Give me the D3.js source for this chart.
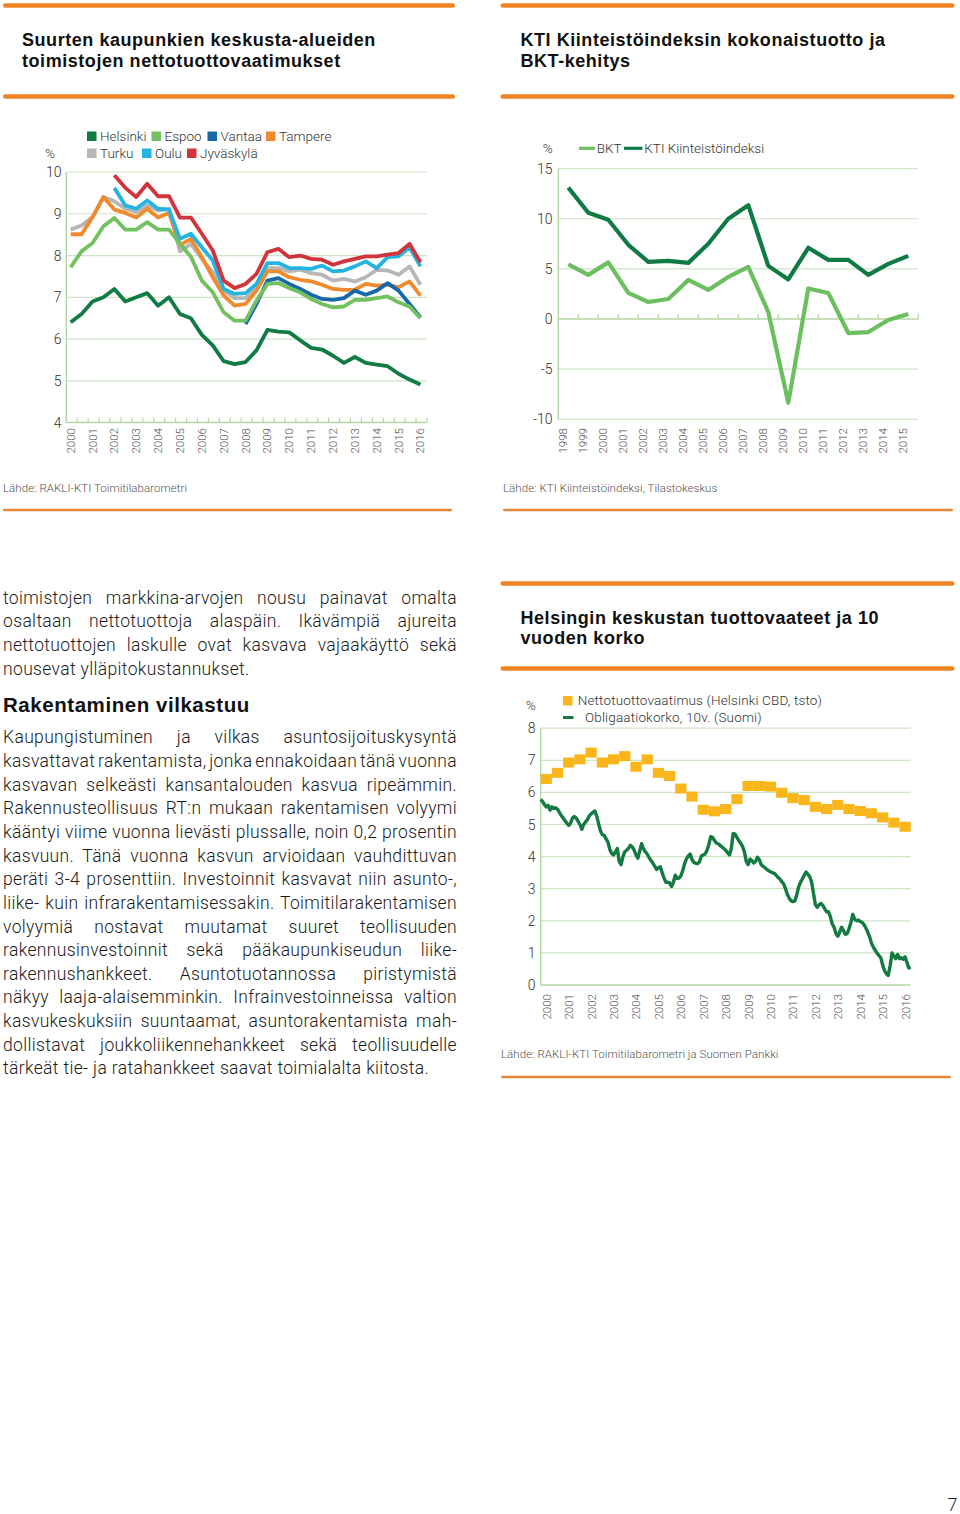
<!DOCTYPE html>
<html><head><meta charset="utf-8">
<script src="https://cdn.jsdelivr.net/npm/d3@7"></script>
<style>
body{margin:0;background:#fff;width:960px;height:1514px;overflow:hidden}
svg{position:absolute;left:0;top:0}
</style></head><body>
<script>
// ---------- DATA ----------
// Chart 1: half-year observations 2000..2016
const c1Years = d3.range(2000, 2017);
const c1Periods = d3.range(33).map(i => 2000 + i * 0.5);
const c1Ticks = [4, 5, 6, 7, 8, 9, 10];
const c1Names = ["Helsinki", "Espoo", "Vantaa", "Tampere", "Turku", "Oulu", "Jyväskylä"];
const helsinki = [6.4,6.6,6.9,7.0,7.2,6.9,7.0,7.1,6.8,7.0,6.6,6.5,6.1,5.85,5.47,5.4,5.45,5.73,6.22,6.18,6.16,5.97,5.79,5.75,5.6,5.43,5.57,5.43,5.39,5.35,5.17,5.03,4.91];
const espoo = [7.72,8.1,8.3,8.7,8.9,8.62,8.62,8.8,8.62,8.62,8.28,7.97,7.4,7.12,6.64,6.44,6.44,6.92,7.32,7.34,7.22,7.12,6.96,6.84,6.76,6.78,6.94,6.94,6.98,7.02,6.88,6.78,6.5];
const vantaa = [null,null,null,null,null,null,null,null,null,null,null,null,null,null,null,null,6.36,6.84,7.4,7.46,7.32,7.2,7.06,6.96,6.94,6.98,7.16,7.06,7.16,7.34,7.16,6.84,6.52];
const tampere = [8.51,8.51,8.92,9.4,9.1,9.02,8.91,9.12,8.91,9.02,8.25,8.4,7.96,7.48,7.04,6.8,6.84,7.16,7.62,7.62,7.48,7.42,7.38,7.3,7.2,7.18,7.18,7.32,7.28,7.3,7.24,7.38,7.04];
const turku = [8.62,8.72,8.92,9.4,9.3,9.12,9.04,9.2,9.08,9.12,8.1,8.28,7.92,7.6,7.16,6.98,6.98,7.24,7.7,7.7,7.62,7.66,7.58,7.54,7.4,7.44,7.38,7.48,7.66,7.64,7.54,7.74,7.3];
const oulu = [null,null,null,null,9.62,9.2,9.12,9.32,9.12,9.1,8.4,8.52,8.2,7.88,7.2,7.08,7.1,7.32,7.82,7.82,7.7,7.7,7.68,7.76,7.62,7.64,7.74,7.86,7.7,7.96,7.98,8.2,7.74];
const jyvaskyla = [null,null,null,null,9.92,9.62,9.4,9.72,9.42,9.42,8.91,8.91,8.52,8.12,7.4,7.22,7.32,7.56,8.08,8.16,7.96,8.0,7.92,7.9,7.78,7.86,7.92,7.98,7.98,8.02,8.06,8.28,7.84];

// Chart 2: annual
const c2Years = d3.range(1998, 2016);
const c2Ticks = [-10, -5, 0, 5, 10, 15];
const bkt = [5.45,4.4,5.65,2.6,1.7,2.0,3.9,2.9,4.2,5.2,0.7,-8.35,3.05,2.6,-1.4,-1.3,-0.1,0.5];
const kti = [13.1,10.6,9.9,7.4,5.7,5.8,5.6,7.5,10.0,11.35,5.3,3.95,7.1,5.9,5.9,4.4,5.5,6.3];

// Chart 3
const c3Years = d3.range(2000, 2017);
const c3Ticks = [0, 1, 2, 3, 4, 5, 6, 7, 8];
const nettotuotto = [6.42,6.61,6.93,7.03,7.24,6.93,7.03,7.13,6.8,7.03,6.61,6.51,6.12,5.87,5.46,5.41,5.48,5.79,6.2,6.2,6.18,5.99,5.82,5.76,5.55,5.48,5.61,5.48,5.42,5.35,5.22,5.06,4.93];
const obligaatio = [
 5.78,5.72,5.62,5.55,5.6,5.45,5.55,5.5,5.52,5.48,5.38,5.28,
 5.2,5.12,5.04,4.97,5.05,5.2,5.25,5.2,5.1,5.0,4.85,5.0,
 5.08,5.15,5.27,5.33,5.38,5.42,5.26,5.02,4.8,4.68,4.66,4.55,
 4.45,4.22,4.1,4.05,4.15,4.25,3.85,3.75,4.0,4.15,4.2,4.26,
 4.35,4.3,4.2,4.05,3.95,4.18,4.4,4.25,4.15,4.08,3.97,3.88,
 3.8,3.7,3.6,3.65,3.68,3.5,3.33,3.2,3.2,3.18,3.07,3.2,
 3.42,3.32,3.33,3.4,3.56,3.78,3.93,4.02,4.08,3.9,3.82,3.79,
 3.78,3.84,4.02,4.05,4.08,4.2,4.38,4.62,4.6,4.5,4.42,4.4,
 4.35,4.3,4.25,4.2,4.12,4.05,4.25,4.72,4.7,4.6,4.5,4.42,
 4.32,4.15,3.85,3.75,3.92,3.88,3.8,3.85,3.98,3.9,3.75,3.7,
 3.65,3.6,3.56,3.53,3.5,3.48,3.42,3.35,3.3,3.22,3.15,3.0,
 2.82,2.7,2.62,2.6,2.62,2.8,3.05,3.2,3.3,3.42,3.52,3.45,
 3.37,3.2,2.85,2.5,2.42,2.5,2.54,2.48,2.37,2.28,2.28,2.13,
 1.9,1.8,1.6,1.52,1.65,1.8,1.7,1.58,1.6,1.75,1.95,2.2,
 2.05,2.0,2.02,1.98,1.95,1.88,1.78,1.65,1.5,1.3,1.18,1.08,
 1.0,0.92,0.85,0.62,0.45,0.35,0.3,0.6,1.0,0.9,0.82,0.95,
 0.82,0.85,0.8,0.88,0.7,0.53,0.55];

const bodyP1 = [
 "toimistojen markkina-arvojen nousu painavat omalta",
 "osaltaan nettotuottoja alaspäin. Ikävämpiä ajureita",
 "nettotuottojen laskulle ovat kasvava vajaakäyttö sekä",
 "nousevat ylläpitokustannukset."];
const bodyP2 = [
 "Kaupungistuminen ja vilkas asuntosijoituskysyntä",
 "kasvattavat rakentamista, jonka ennakoidaan tänä vuonna",
 "kasvavan selkeästi kansantalouden kasvua ripeämmin.",
 "Rakennusteollisuus RT:n mukaan rakentamisen volyymi",
 "kääntyi viime vuonna lievästi plussalle, noin 0,2 prosentin",
 "kasvuun. Tänä vuonna kasvun arvioidaan vauhdittuvan",
 "peräti 3-4 prosenttiin. Investoinnit kasvavat niin asunto-,",
 "liike- kuin infrarakentamisessakin. Toimitilarakentamisen",
 "volyymiä nostavat muutamat suuret teollisuuden",
 "rakennusinvestoinnit sekä pääkaupunkiseudun liike-",
 "rakennushankkeet. Asuntotuotannossa piristymistä",
 "näkyy laaja-alaisemminkin. Infrainvestoinneissa valtion",
 "kasvukeskuksiin suuntaamat, asuntorakentamista mah-",
 "dollistavat joukkoliikennehankkeet sekä teollisuudelle",
 "tärkeät tie- ja ratahankkeet saavat toimialalta kiitosta."];

// ---------- STYLE ----------
const FONT = "Roboto, 'Liberation Sans', sans-serif";
const BOLD = "'Liberation Sans', Arial, sans-serif";
const ORANGE = "#f08424";
const GRID = "#cfe3c6";
const AXIS = "#b6d6a8";
const TICKC = "#333";
const c1Colors = ["#107b44", "#72c160", "#1768ab", "#f08a2c", "#b7b7b7", "#25b4e2", "#d2343b"];

const svg = d3.select("body").append("svg").attr("width", 960).attr("height", 1514)
  .style("font-family", FONT).style("font-weight", 300);

function bar(x0, x1, y, h, col) {
  svg.append("rect").attr("x", x0).attr("y", y - h / 2).attr("width", x1 - x0).attr("height", h)
    .attr("rx", h / 2).attr("fill", col || ORANGE);
}
function title(lines, x, y0) {
  const t = svg.append("text").attr("x", x).attr("y", y0).style("font-family", BOLD)
    .style("font-weight", 700).style("font-size", "18px").style("letter-spacing", "0.55px").attr("fill", "#111");
  lines.forEach((l, i) => t.append("tspan").attr("x", x).attr("y", y0 + i * 20.7).text(l));
}
function source(txt, x, y) {
  svg.append("text").attr("x", x).attr("y", y).style("font-size", "11.5px").attr("fill", "#555")
    .style("letter-spacing", "0.05px").text(txt);
}
function yearLabels(years, xf, ytop) {
  svg.append("g").selectAll("text").data(years).join("text")
    .attr("transform", d => `translate(${xf(d)},${ytop}) rotate(-90)`)
    .attr("text-anchor", "end").attr("dy", "0.35em")
    .style("font-size", "11.5px").attr("fill", "#555").text(d => d);
}

// ---------- CHART 1 ----------
bar(3, 455, 5.5, 4.6);
title(["Suurten kaupunkien keskusta-alueiden", "toimistojen nettotuottovaatimukset"], 22, 46);
bar(3, 455, 96.5, 4.6);

const x1 = d3.scaleLinear().domain([1999.8, 2016.3]).range([66.3, 427]);
const y1 = d3.scaleLinear().domain([4, 10]).range([422.6, 172]);
const g1 = svg.append("g");
g1.selectAll(".gr").data(c1Ticks.slice(1)).join("line")
  .attr("x1", x1(1999.8)).attr("x2", x1(2016.3)).attr("y1", d => y1(d)).attr("y2", d => y1(d))
  .attr("stroke", GRID).attr("stroke-width", 1.2);
g1.append("line").attr("x1", x1(1999.8)).attr("x2", x1(2016.3)).attr("y1", y1(4)).attr("y2", y1(4))
  .attr("stroke", AXIS).attr("stroke-width", 1.5);
g1.append("line").attr("x1", x1(1999.8)).attr("x2", x1(1999.8)).attr("y1", y1(10)).attr("y2", y1(4))
  .attr("stroke", AXIS).attr("stroke-width", 1.5);
g1.selectAll(".tk").data(d3.range(34).map(i => 1999.8 + i * 0.5)).join("line")
  .attr("x1", d => x1(d)).attr("x2", d => x1(d)).attr("y1", y1(4) - 5).attr("y2", y1(4))
  .attr("stroke", AXIS).attr("stroke-width", 1.2);
g1.selectAll(".yl").data(c1Ticks).join("text").attr("x", 61.5).attr("y", d => y1(d)).attr("dy", "0.36em")
  .attr("text-anchor", "end").style("font-size", "14px").attr("fill", TICKC).text(d => d);
svg.append("text").attr("x", 50).attr("y", 158).attr("text-anchor", "middle").style("font-size", "13.5px")
  .attr("fill", TICKC).text("%");
yearLabels(c1Years, d => x1(d), 428);

const c1Series = [helsinki, espoo, vantaa, tampere, turku, oulu, jyvaskyla];
const line1 = d3.line().defined(d => d[1] != null).x(d => x1(d[0])).y(d => y1(d[1]));
const drawOrder = [4, 3, 5, 6, 2, 1, 0];
drawOrder.forEach(k => {
  g1.append("path").attr("d", line1(c1Periods.map((p, i) => [p, c1Series[k][i]])))
    .attr("fill", "none").attr("stroke", c1Colors[k]).attr("stroke-width", 3.8)
    .attr("stroke-linejoin", "round").attr("stroke-linecap", "butt");
});
// legend chart 1
const leg1 = [[0, 100, 0], [1, 164.5, 0], [2, 220.5, 0], [3, 279, 0],
              [4, 100, 1], [5, 155, 1], [6, 200, 1]];
leg1.forEach(([k, tx, row]) => {
  const by = 141 + row * 17;
  svg.append("rect").attr("x", tx - 13).attr("y", by - 9.5).attr("width", 9.5).attr("height", 9.5).attr("fill", c1Colors[k]);
  svg.append("text").attr("x", tx).attr("y", by).style("font-size", "13.5px").attr("fill", TICKC).text(c1Names[k]);
});
source("Lähde: RAKLI-KTI Toimitilabarometri", 3, 492);
bar(3, 452, 510, 2.6, "#e8873a");

// ---------- CHART 2 ----------
bar(500.5, 954.5, 5.5, 4.6);
title(["KTI Kiinteistöindeksin kokonaistuotto ja", "BKT-kehitys"], 520.5, 46);
bar(500.5, 954.5, 96.5, 4.6);

const x2 = d3.scaleLinear().domain([1998, 2016]).range([558.3, 918.3]);
const y2 = d3.scaleLinear().domain([-10, 15]).range([419.3, 168.6]);
const g2 = svg.append("g");
g2.selectAll(".gr").data(c2Ticks.filter(d => d !== 0)).join("line")
  .attr("x1", x2(1998)).attr("x2", x2(2016)).attr("y1", d => y2(d)).attr("y2", d => y2(d))
  .attr("stroke", GRID).attr("stroke-width", 1.2);
g2.append("line").attr("x1", x2(1998)).attr("x2", x2(2016)).attr("y1", y2(0)).attr("y2", y2(0))
  .attr("stroke", AXIS).attr("stroke-width", 1.5);
g2.append("line").attr("x1", x2(1998)).attr("x2", x2(1998)).attr("y1", y2(15)).attr("y2", y2(-10))
  .attr("stroke", AXIS).attr("stroke-width", 1.5);
g2.selectAll(".tk").data(d3.range(1999, 2017)).join("line")
  .attr("x1", d => x2(d)).attr("x2", d => x2(d)).attr("y1", y2(0) - 5.5).attr("y2", y2(0))
  .attr("stroke", AXIS).attr("stroke-width", 1.2);
g2.selectAll(".yl").data(c2Ticks).join("text").attr("x", 552.5).attr("y", d => y2(d)).attr("dy", "0.36em")
  .attr("text-anchor", "end").style("font-size", "14px").attr("fill", TICKC).text(d => d);
svg.append("text").attr("x", 547.7).attr("y", 153).attr("text-anchor", "middle").style("font-size", "13.5px")
  .attr("fill", TICKC).text("%");
yearLabels(c2Years, d => x2(d + 0.22), 428);
const line2 = d3.line().x(d => x2(d[0] + 0.5)).y(d => y2(d[1]));
g2.append("path").attr("d", line2(c2Years.map((yr, i) => [yr, bkt[i]])))
  .attr("fill", "none").attr("stroke", "#6cbf5e").attr("stroke-width", 4.2).attr("stroke-linejoin", "round");
g2.append("path").attr("d", line2(c2Years.map((yr, i) => [yr, kti[i]])))
  .attr("fill", "none").attr("stroke", "#107a45").attr("stroke-width", 4.2).attr("stroke-linejoin", "round");
svg.append("line").attr("x1", 579).attr("x2", 595).attr("y1", 148.3).attr("y2", 148.3).attr("stroke", "#6cbf5e").attr("stroke-width", 3.2);
svg.append("text").attr("x", 596.7).attr("y", 153).style("font-size", "13.5px").attr("fill", TICKC).text("BKT");
svg.append("line").attr("x1", 624).attr("x2", 642.5).attr("y1", 148.3).attr("y2", 148.3).attr("stroke", "#107a45").attr("stroke-width", 3.2);
svg.append("text").attr("x", 644.3).attr("y", 153).style("font-size", "13.5px").attr("fill", TICKC).text("KTI Kiinteistöindeksi");
source("Lähde: KTI Kiinteistöindeksi, Tilastokeskus", 503, 492);
bar(503, 953, 510, 2.6, "#e8873a");

// ---------- BODY TEXT ----------
function justified(lines, x, y0, step, width, size) {
  lines.forEach((l, i) => {
    const t = svg.append("text").attr("x", x).attr("y", y0 + i * step)
      .style("font-size", size + "px").style("letter-spacing", "0.35px").attr("fill", "#1a1a1a").text(l);
    if (i < lines.length - 1) {
      const w = t.node().getComputedTextLength();
      const n = (l.match(/ /g) || []).length;
      if (n > 0) t.style("word-spacing", ((width - w) / n) + "px");
    }
  });
}
justified(bodyP1, 3, 603.7, 23.65, 454, 17.5);
svg.append("text").attr("x", 3).attr("y", 711.7).style("font-family", BOLD).style("font-weight", 700)
  .style("font-size", "20.5px").style("letter-spacing", "0.55px").attr("fill", "#111").text("Rakentaminen vilkastuu");
justified(bodyP2, 3, 743.3, 23.65, 454, 17.5);

// ---------- CHART 3 ----------
bar(500.5, 954.5, 583.5, 4.6);
title(["Helsingin keskustan tuottovaateet ja 10", "vuoden korko"], 520.5, 623.5);
bar(500.5, 954.5, 668.5, 4.6);

const x3 = d3.scaleLinear().domain([2000, 2016.5]).range([540.7, 910.7]);
const y3 = d3.scaleLinear().domain([0, 8]).range([985, 728.2]);
const g3 = svg.append("g");
g3.selectAll(".gr").data(c3Ticks.slice(1)).join("line")
  .attr("x1", x3(2000)).attr("x2", x3(2016.5)).attr("y1", d => y3(d)).attr("y2", d => y3(d))
  .attr("stroke", GRID).attr("stroke-width", 1.2);
g3.append("line").attr("x1", x3(2000)).attr("x2", x3(2016.5)).attr("y1", y3(0)).attr("y2", y3(0))
  .attr("stroke", AXIS).attr("stroke-width", 1.5);
g3.append("line").attr("x1", x3(2000)).attr("x2", x3(2000)).attr("y1", y3(8)).attr("y2", y3(0))
  .attr("stroke", AXIS).attr("stroke-width", 1.5);
g3.selectAll(".yl").data(c3Ticks).join("text").attr("x", 535.5).attr("y", d => y3(d)).attr("dy", "0.36em")
  .attr("text-anchor", "end").style("font-size", "14px").attr("fill", TICKC).text(d => d);
svg.append("text").attr("x", 530.7).attr("y", 710).attr("text-anchor", "middle").style("font-size", "13.5px")
  .attr("fill", TICKC).text("%");
yearLabels(c3Years, d => x3(d + 0.27), 994);
const halfW = x3(2000.5) - x3(2000);
g3.selectAll(".sq").data(nettotuotto).join("rect")
  .attr("x", (d, i) => x3(2000 + i * 0.5)).attr("y", d => y3(d) - 5)
  .attr("width", halfW).attr("height", 10).attr("fill", "#f9b519");
const line3 = d3.line().x((d, i) => x3(2000 + i / 12)).y(d => y3(d));
g3.append("path").attr("d", line3(obligaatio)).attr("fill", "none").attr("stroke", "#137a41")
  .attr("stroke-width", 3.4).attr("stroke-linejoin", "round");
svg.append("rect").attr("x", 563).attr("y", 696).attr("width", 9.5).attr("height", 9.5).attr("fill", "#f9b519");
svg.append("text").attr("x", 577.7).attr("y", 705).style("font-size", "13.5px").style("letter-spacing", "0.15px").attr("fill", TICKC)
  .text("Nettotuottovaatimus (Helsinki CBD, tsto)");
svg.append("line").attr("x1", 563).attr("x2", 573.5).attr("y1", 717.5).attr("y2", 717.5).attr("stroke", "#137a41").attr("stroke-width", 3);
svg.append("text").attr("x", 585).attr("y", 722.3).style("font-size", "13.5px").style("letter-spacing", "0.15px").attr("fill", TICKC)
  .text("Obligaatiokorko, 10v. (Suomi)");
source("Lähde: RAKLI-KTI Toimitilabarometri ja Suomen Pankki", 501, 1058);
bar(501, 951, 1077, 2.6, "#e8873a");

// page number
svg.append("text").attr("x", 957.5).attr("y", 1511).attr("text-anchor", "end").style("font-size", "18px")
  .attr("fill", "#222").text("7");
</script>
</body></html>
